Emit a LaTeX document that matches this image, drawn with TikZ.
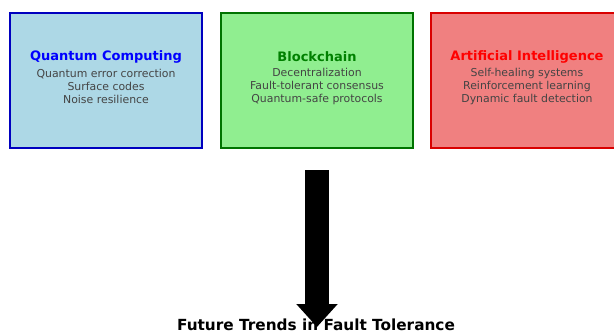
\documentclass[tikz,border=0pt]{standalone}
\usepackage{fontspec}
\setmainfont{DejaVu Sans}
\usetikzlibrary{arrows.meta,positioning}
\definecolor{qfill}{HTML}{ADD8E6}
\definecolor{bfill}{HTML}{90EE90}
\definecolor{afill}{HTML}{F08080}
\definecolor{bodygray}{HTML}{444444}
\begin{document}
\begin{tikzpicture}[x=1pt,y=-1pt,
	area/.style={rectangle,draw=#1,line width=2.2pt,minimum width=192pt,minimum height=135pt,inner sep=0pt},
	head/.style={font=\fontsize{13}{13}\selectfont\bfseries},
	body/.style={font=\fontsize{10.9}{13}\selectfont,text=bodygray,align=center}]
\useasboundingbox (0,0) rectangle (614,333);
% three fields
\node[area=blue!75!black,fill=qfill] (qc) at (106,80.5) {};
\node[area=green!45!black,fill=bfill] (bc) at (317,80.5) {};
\node[area=red!85!black,fill=afill] (ai) at (527,80.5) {};
\node[head,text=blue] (qct) at (106,57) {Quantum Computing};
\node[body] (qcb) at (106,86) {Quantum error correction\\Surface codes\\Noise resilience};
\node[head,text=green!50!black] (bct) at (317,57) {Blockchain};
\node[body] (bcb) at (317,86) {Decentralization\\Fault-tolerant consensus\\Quantum-safe protocols};
\node[head,text=red] (ait) at (527,57) {Artificial Intelligence};
\node[body] (aib) at (527,86) {Self-healing systems\\Reinforcement learning\\Dynamic fault detection};
% outcome
\node[head,font=\fontsize{15.3}{16}\selectfont\bfseries,anchor=base] (ft) at (316,330) {Future Trends in Fault Tolerance};
\coordinate (top) at (317,170);
\draw[line width=24pt,-{Triangle[width=40pt,length=23pt]}] (top) -- (317,327);
\end{tikzpicture}
\end{document}
